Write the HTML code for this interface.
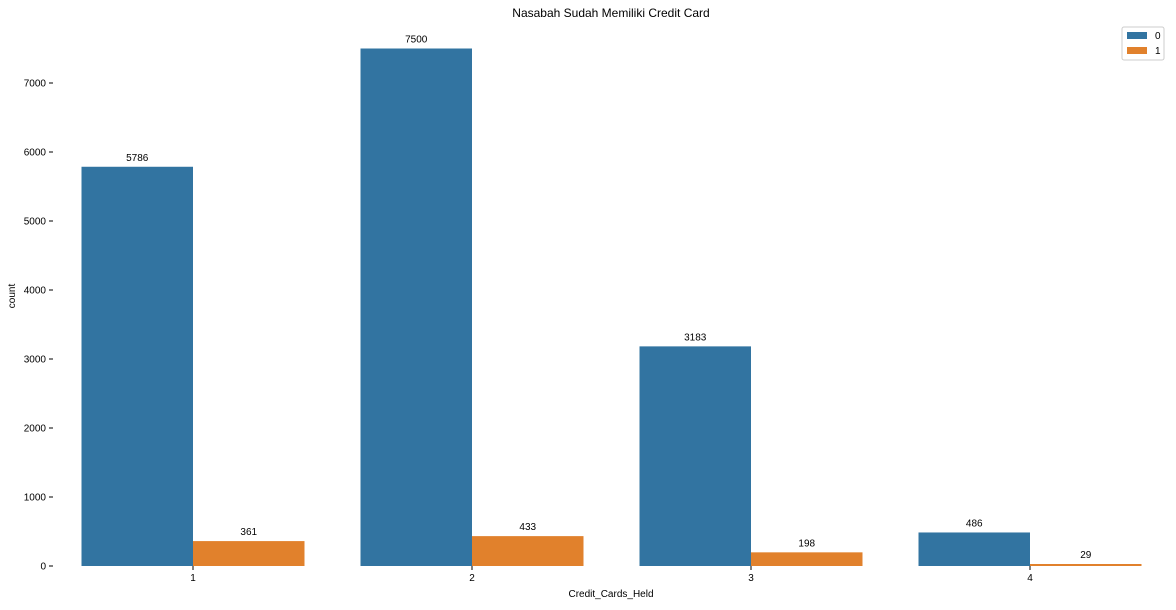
<!DOCTYPE html>
<html><head><meta charset="utf-8"><style>
body{margin:0;background:#fff;font-family:"Liberation Sans",sans-serif;}
svg text{font-family:"Liberation Sans",sans-serif;fill:#000;}
</style></head><body>
<svg id="chart" width="1176" height="605"></svg>
<script>
const categories=["1","2","3","4"];
const series0=[5786,7500,3183,486];
const series1=[361,433,198,29];
const yTicks=[0,1000,2000,3000,4000,5000,6000,7000];
const ns="http://www.w3.org/2000/svg";
const svg=document.getElementById('chart');
const x0=53.5,step=279,y0=566,pxPer=0.069,bw=111.5;
const y=v=>y0-v*pxPer;
const cx=i=>x0+step*(i+0.5);
function mk(t,a,txt){const e=document.createElementNS(ns,t);for(const k in a)e.setAttribute(k,a[k]);if(txt!==undefined)e.textContent=txt;svg.appendChild(e);return e;}
let t=mk('text',{x:611,y:17,'text-anchor':'middle','font-size':12},'Nasabah Sudah Memiliki Credit Card');

yTicks.forEach(v=>{
 let l=mk('line',{x1:49,x2:53,y1:y(v),y2:y(v),stroke:'#000'});
 
 let tx=mk('text',{x:46,y:y(v)+3.5,'text-anchor':'end','font-size':10},v);
 
});
t=mk('text',{x:15,y:296,'text-anchor':'middle','font-size':10,transform:'rotate(-90 15 296)'},'count');

categories.forEach((c,i)=>{
 const vals=[series0[i],series1[i]],cols=['#3274a1','#e1812c'];
 vals.forEach((v,j)=>{
  const bx=cx(i)-bw+j*bw;
  let r=mk('rect',{x:bx,y:y(v),width:bw,height:v*pxPer,fill:cols[j]});
  
  let lb=mk('text',{x:bx+bw/2,y:y(v)-6,'text-anchor':'middle','font-size':10},v);
  
 });
 let l=mk('line',{x1:cx(i),x2:cx(i),y1:566,y2:570,stroke:'#000'});
 
 let tx=mk('text',{x:cx(i),y:581,'text-anchor':'middle','font-size':10},c);
 
});
t=mk('text',{x:611,y:597,'text-anchor':'middle','font-size':10},'Credit_Cards_Held');

let lg=mk('rect',{x:1122,y:27,width:42,height:33,fill:'#fff',stroke:'#ccc',rx:2});

[['0','#3274a1'],['1','#e1812c']].forEach((e,k)=>{
 let s=mk('rect',{x:1127,y:32+k*15,width:20,height:7,fill:e[1]});
 
 let tx=mk('text',{x:1155,y:39+k*15,'font-size':10},e[0]);
 
});
</script>
</body></html>
